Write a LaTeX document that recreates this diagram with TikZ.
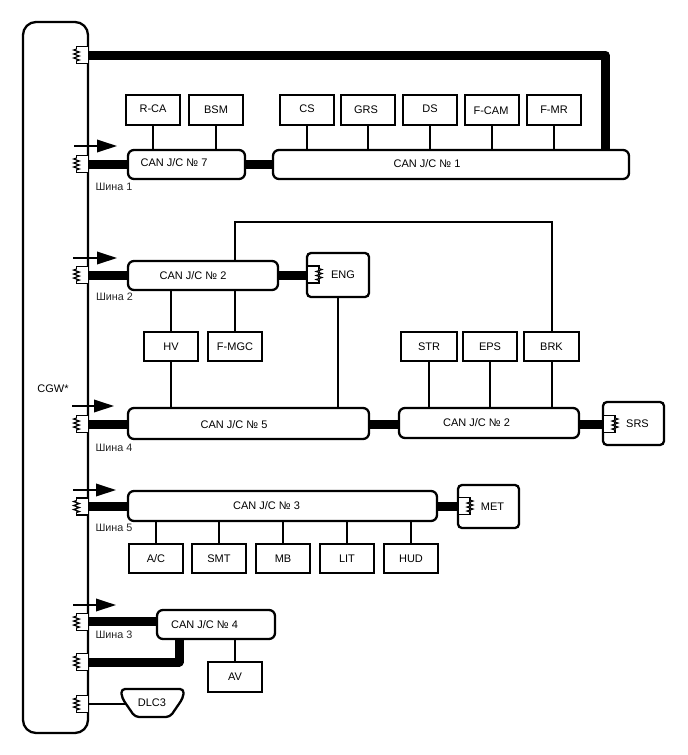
\documentclass[tikz,border=0pt]{standalone}
\usepackage{fontspec}
\setmainfont{Liberation Sans}
\usetikzlibrary{arrows.meta,calc}
\tikzset{
  base/.style={draw=black,line width=2.3pt,inner sep=0pt,fill=white,font=\fontsize{11}{12}\selectfont,anchor=center},
  unit/.style={base},
  ecu/.style={base,rounded corners=4pt},
  hub/.style={base,rounded corners=6pt},
  gateway/.style={base,rounded corners=13pt},
  thickbus/.style={line width=9pt,line join=round},
  stem/.style={line width=2.3pt},
  flow/.style={line width=2pt,-{Triangle[length=20pt,width=12.5pt]}},
  txt/.style={inner sep=0pt,font=\fontsize{11}{12}\selectfont},
  busname/.style={inner sep=0pt,font=\fontsize{10.8}{12}\selectfont,text=black!85},
}
% box given by its corners: style, name, x1, y1, x2, y2, text
\newcommand{\boxat}[7]{%
  \pgfmathsetmacro{\cxx}{(#3+#5)/2}\pgfmathsetmacro{\cyy}{(#4+#6)/2}%
  \pgfmathsetmacro{\wdd}{#5-#3}\pgfmathsetmacro{\htt}{#6-#4}%
  \node[#1,minimum width=\wdd pt,minimum height=\htt pt] (#2) at (\cxx,\cyy) {#7};}
% terminating resistor: name, edge x, centre y, direction (1 sits left of the edge, -1 right of it)
\newcommand{\terminator}[4]{%
  \coordinate (#1) at (#2,#3);
  \begin{scope}[shift={(#2,#3)},xscale=#4]
    \draw[line width=1.3pt,fill=white] (0,-8.5) -- (-11.5,-8.5) -- (-11.5,8.5) -- (0,8.5);
    \draw[line width=1.1pt,fill=white] (-11.5,-6) -- (-14.5,-5) -- (-8.5,-3) -- (-14.5,-1) -- (-8.5,1) -- (-14.5,3) -- (-8.5,5) -- (-11.5,6);
  \end{scope}}
\begin{document}
\begin{tikzpicture}[x=1pt,y=-1pt]
\useasboundingbox (0,0) rectangle (688,755);

% trunk ends on the gateway edge
\coordinate (t1) at (88,55);
\coordinate (t2) at (88,164.5);
\coordinate (t3) at (88,275);
\coordinate (t4) at (88,424.5);
\coordinate (t5) at (88,506.5);
\coordinate (t6) at (88,621);
\coordinate (t7) at (88,662);
\coordinate (t8) at (88,704);

% gateway
\boxat{gateway}{cgw}{23}{22}{88}{733}{}
\node[txt] (cgwlabel) at (53,389) {CGW*};

% CAN junction connectors
\boxat{hub}{jc7}{128}{150}{245}{179}{}
\boxat{hub}{jc1}{273}{150}{629}{179}{}
\boxat{hub}{jc2a}{128}{261}{278}{290}{}
\boxat{hub}{jc5}{128}{408}{369}{439}{}
\boxat{hub}{jc2b}{399}{408}{579}{438}{}
\boxat{hub}{jc3}{128}{491}{437}{521}{}
\boxat{hub}{jc4}{157}{610}{275}{639}{}

% round-cornered units with their own resistor
\boxat{ecu}{eng}{307}{253}{369}{297}{\hspace*{10pt}ENG}
\boxat{ecu}{srs}{603}{402}{664}{445}{\hspace*{8pt}SRS}
\boxat{ecu}{met}{458}{485}{519}{528}{\hspace*{8pt}MET}

% plain units
\boxat{unit}{rca}{126}{95}{180}{125}{}
\boxat{unit}{bsm}{189}{95}{243}{125}{}
\boxat{unit}{cs}{280}{95}{334}{125}{}
\boxat{unit}{grs}{341}{95}{395}{125}{}
\boxat{unit}{ds}{403}{95}{457}{125}{}
\boxat{unit}{fcam}{465}{95}{519}{125}{}
\boxat{unit}{fmr}{527}{95}{581}{125}{}
\node[txt] at (153,109) {R-CA};
\node[txt] at (216,110) {BSM};
\node[txt] at (307,109) {CS};
\node[txt] at (366,110) {GRS};
\node[txt] at (430,109) {DS};
\node[txt] at (491,111) {F-CAM};
\node[txt] at (554,110) {F-MR};

\boxat{unit}{hv}{144}{332}{198}{361}{HV}
\boxat{unit}{fmgc}{208}{332}{262}{361}{F-MGC}
\boxat{unit}{str}{401}{332}{457}{361}{STR}
\boxat{unit}{eps}{463}{332}{517}{361}{EPS}
\boxat{unit}{brk}{524}{332}{579}{361}{BRK}

\boxat{unit}{ac}{129}{544}{183}{573}{A/C}
\boxat{unit}{smt}{192}{544}{246}{573}{SMT}
\boxat{unit}{mb}{256}{544}{310}{573}{MB}
\boxat{unit}{lit}{320}{544}{374}{573}{LIT}
\boxat{unit}{hud}{384}{544}{438}{573}{HUD}
\boxat{unit}{av}{208}{662}{262}{692}{AV}

% heavy trunks
\draw[thickbus] (t1) -- (605,55) -- (605,150);
\draw[thickbus] (t2) -- (jc7.west |- t2);
\draw[thickbus] (jc7.east |- 0,164) -- (jc1.west |- 0,164);
\draw[thickbus] (t3) -- (jc2a.west |- t3);
\draw[thickbus] (jc2a.east |- 0,275) -- (eng.west |- 0,275);
\draw[thickbus] (t4) -- (jc5.west |- t4);
\draw[thickbus] (jc5.east |- 0,424) -- (jc2b.west |- 0,424);
\draw[thickbus] (jc2b.east |- 0,424) -- (srs.west |- 0,424);
\draw[thickbus] (t5) -- (jc3.west |- t5);
\draw[thickbus] (jc3.east |- 0,506.5) -- (met.west |- 0,506.5);
\draw[thickbus] (t6) -- (jc4.west |- t6);
\draw[thickbus] (t7) -- (179,662) -- (179,639);

% thin stubs
\foreach \u/\j in {rca/jc7,bsm/jc7,cs/jc1,grs/jc1,ds/jc1,fcam/jc1,fmr/jc1}
  \draw[stem] (\u.south) -- (\u.south |- \j.north);
\foreach \u/\j in {ac/jc3,smt/jc3,mb/jc3,lit/jc3,hud/jc3}
  \draw[stem] (\u.north) -- (\u.north |- \j.south);
\draw[stem] (av.north) -- (av.north |- jc4.south);
\foreach \u in {str,eps}
  \draw[stem] (\u.south) -- (\u.south |- jc2b.north);
\draw[stem] (brk.south -| 552,0) -- (552,0 |- jc2b.north);
\draw[stem] (jc2a.south -| hv.north) -- (hv.north);
\draw[stem] (hv.south) -- (hv.south |- jc5.north);
\draw[stem] (jc2a.south -| fmgc.north) -- (fmgc.north);
\draw[stem] (338,0 |- eng.south) -- (338,0 |- jc5.north);
\draw[stem,line join=miter] (235,0 |- jc2a.north) -- (235,222) -- (552,222) -- (552,0 |- brk.north);

% diagnostic connector
\draw[stem] (t8) -- (128,704);
\draw[base,line join=round,rounded corners=4pt] (121,689) -- (184,689) -- (183,698) -- (170,717) -- (135,717) -- (122,698) -- cycle;
\node[txt] (dlc) at (152,703) {DLC3};

% resistors
\terminator{r1}{88}{55}{1}
\terminator{r2}{88}{164}{1}
\terminator{r3}{88}{275}{1}
\terminator{r4}{88}{424}{1}
\terminator{r5}{88}{506.5}{1}
\terminator{r6}{88}{622}{1}
\terminator{r7}{88}{662}{1}
\terminator{r8}{88}{704}{1}
\terminator{re}{307.5}{274.5}{-1}
\terminator{rs}{603.5}{424}{-1}
\terminator{rm}{458.5}{506}{-1}

% direction of transmission
\foreach \n/\y/\xa/\xb in {a/146/74/117,b/258/73/117,c/406/72/114,d/490/73/116,e/605/73/116} {
  \coordinate (\n0) at (\xa,\y);
  \coordinate (\n1) at (\xb,\y);
  \draw[flow] (\n0) -- (\n1);
}

% junction connector captions
\node[txt] at (174,163) {CAN J/C № 7};
\node[txt] at (427,164) {CAN J/C № 1};
\node[txt] at (193,276) {CAN J/C № 2};
\node[txt] at (234,425) {CAN J/C № 5};
\node[txt] at (476.5,423) {CAN J/C № 2};
\node[txt] at (266.5,506) {CAN J/C № 3};
\node[txt] at (204.5,625) {CAN J/C № 4};

% bus names
\node[busname] at (114,187) {Шина 1};
\node[busname] at (114.5,297) {Шина 2};
\node[busname] at (114,448) {Шина 4};
\node[busname] at (114,528) {Шина 5};
\node[busname] at (114,635) {Шина 3};
\end{tikzpicture}
\end{document}
